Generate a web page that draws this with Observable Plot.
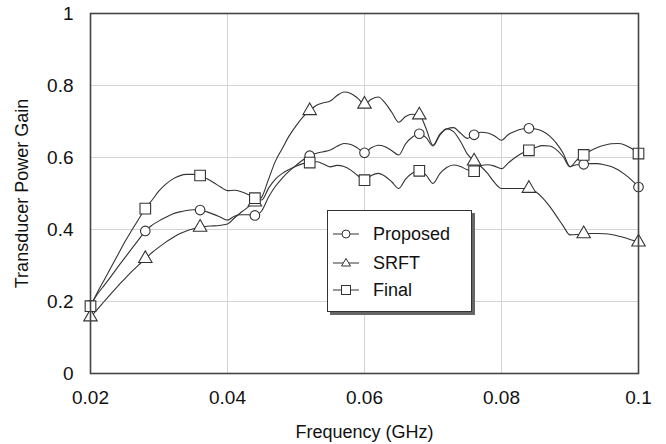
<!DOCTYPE html>
<html>
<head>
<meta charset="utf-8">
<script src="https://cdn.jsdelivr.net/npm/d3@7"></script>
<script src="https://cdn.jsdelivr.net/npm/@observablehq/plot@0.6"></script>
<style>
  html, body { margin: 0; padding: 0; background: #fff; }
  #wrap { position: relative; width: 666px; height: 444px; font-family: "Liberation Sans", Arial, sans-serif; }
  #legend { position: absolute; left: 327px; top: 210px; width: 145px; height: 102px; background: #fff;
            border: 1px solid #333; box-shadow: 3px 3px 0 #666; box-sizing: border-box; }
  .row { position: absolute; left: 5px; height: 24px; display: flex; align-items: center; font-size: 18px; color: #111; }
  .row svg { margin-right: 14px; }
</style>
</head>
<body>
<div id="wrap"></div>
<script>
// Frequency grid (GHz)
const freq = [0.020,0.021,0.022,0.023,0.024,0.025,0.026,0.027,0.028,0.029,
  0.030,0.031,0.032,0.033,0.034,0.035,0.036,0.037,0.038,0.039,
  0.040,0.041,0.042,0.043,0.044,0.045,0.046,0.047,0.048,0.049,
  0.050,0.051,0.052,0.053,0.054,0.055,0.056,0.057,0.058,0.059,
  0.060,0.061,0.062,0.063,0.064,0.065,0.066,0.067,0.068,0.069,
  0.070,0.071,0.072,0.073,0.074,0.075,0.076,0.077,0.078,0.079,
  0.080,0.081,0.082,0.083,0.084,0.085,0.086,0.087,0.088,0.089,
  0.090,0.091,0.092,0.093,0.094,0.095,0.096,0.097,0.098,0.099,0.100];

const proposed = [0.19,0.22,0.245,0.27,0.296,0.321,0.346,0.371,0.396,0.412,
  0.424,0.434,0.443,0.449,0.453,0.455,0.454,0.449,0.442,0.434,
  0.426,0.437,0.441,0.441,0.439,0.452,0.49,0.52,0.543,0.562,
  0.578,0.593,0.605,0.612,0.616,0.621,0.631,0.639,0.636,0.626,
  0.613,0.627,0.634,0.63,0.619,0.607,0.638,0.657,0.666,0.655,
  0.632,0.662,0.679,0.683,0.668,0.653,0.663,0.67,0.668,0.66,
  0.648,0.664,0.673,0.679,0.681,0.679,0.673,0.66,0.64,0.612,
  0.575,0.58,0.581,0.583,0.583,0.58,0.575,0.566,0.553,0.537,0.518];

const srft = [0.157,0.178,0.2,0.222,0.243,0.263,0.283,0.301,0.319,0.336,
  0.351,0.365,0.377,0.388,0.396,0.402,0.406,0.409,0.41,0.412,
  0.415,0.432,0.448,0.462,0.476,0.49,0.54,0.59,0.625,0.66,
  0.688,0.712,0.73,0.745,0.752,0.757,0.772,0.782,0.778,0.765,
  0.748,0.762,0.768,0.752,0.725,0.698,0.714,0.72,0.718,0.68,
  0.634,0.665,0.68,0.672,0.645,0.61,0.59,0.575,0.555,0.53,
  0.514,0.514,0.514,0.514,0.514,0.505,0.488,0.465,0.438,0.41,
  0.385,0.386,0.388,0.389,0.389,0.388,0.386,0.382,0.377,0.371,0.365];

const final = [0.187,0.225,0.26,0.295,0.33,0.365,0.397,0.428,0.458,0.482,
  0.507,0.526,0.54,0.549,0.553,0.553,0.55,0.541,0.53,0.518,
  0.508,0.509,0.505,0.497,0.487,0.482,0.515,0.54,0.556,0.567,
  0.576,0.583,0.586,0.588,0.582,0.574,0.578,0.575,0.565,0.55,
  0.537,0.55,0.556,0.548,0.532,0.514,0.54,0.557,0.563,0.551,
  0.528,0.555,0.572,0.579,0.575,0.566,0.562,0.578,0.58,0.576,
  0.569,0.585,0.6,0.612,0.62,0.628,0.633,0.632,0.622,0.602,
  0.574,0.593,0.607,0.619,0.628,0.634,0.638,0.639,0.635,0.625,0.611];

const seriesNames = ["Proposed", "SRFT", "Final"];
const markerFreq = [0.020,0.028,0.036,0.044,0.052,0.060,0.068,0.076,0.084,0.092,0.100];
const xTicks = [0.02,0.04,0.06,0.08,0.1];
const xTickLabels = ["0.02","0.04","0.06","0.08","0.1"];
const yTicks = [0,0.2,0.4,0.6,0.8,1];
const yTickLabels = ["0","0.2","0.4","0.6","0.8","1"];

const valuesBySeries = {Proposed: proposed, SRFT: srft, Final: final};
const rows = seriesNames.flatMap(s => freq.map((f, i) => ({series: s, f, v: valuesBySeries[s][i]})));
const isMarker = d => markerFreq.some(m => Math.abs(m - d.f) < 1e-9);
const markers = rows.filter(isMarker);

const ink = "#333";
const font = "Liberation Sans, Arial, sans-serif";

const chart = Plot.plot({
  width: 666, height: 444,
  marginLeft: 90, marginRight: 28, marginTop: 13, marginBottom: 71,
  style: {fontFamily: font, background: "#fff"},
  x: {domain: [0.02, 0.1]},
  y: {domain: [0, 1]},
  marks: [
    Plot.gridX(xTicks, {stroke: "#d4d4d4", strokeOpacity: 1, strokeWidth: 1}),
    Plot.gridY(yTicks, {stroke: "#d4d4d4", strokeOpacity: 1, strokeWidth: 1}),
    Plot.axisX(xTicks, {tickSize: 0, tickPadding: 17, fontSize: 19, fill: "#111",
      tickFormat: (d, i) => xTickLabels[i], label: null}),
    Plot.axisY(yTicks, {tickSize: 0, tickPadding: 17, fontSize: 19, fill: "#111",
      tickFormat: (d, i) => yTickLabels[i], label: null}),
    Plot.text(["Frequency (GHz)"], {frameAnchor: "bottom", dy: 59, lineAnchor: "middle", textAnchor: "middle", fontSize: 18, fill: "#111", fontFamily: font}),
    Plot.text(["Transducer Power Gain"], {frameAnchor: "left", dx: -68, rotate: -90, textAnchor: "middle", lineAnchor: "middle", fontSize: 18, fill: "#111", fontFamily: font}),
    Plot.line(rows, {x: "f", y: "v", z: "series", curve: "monotone-x", stroke: ink, strokeWidth: 1.1}),
    Plot.dot(markers.filter(d => d.series === "Proposed"), {x: "f", y: "v", symbol: "circle", r: 4.8, fill: "white", stroke: ink, strokeWidth: 1.1}),
    Plot.dot(markers.filter(d => d.series === "SRFT"), {x: "f", y: "v", symbol: "triangle", r: 5, fill: "white", stroke: ink, strokeWidth: 1.1}),
    Plot.dot(markers.filter(d => d.series === "Final"), {x: "f", y: "v", symbol: "square", r: 6, fill: "white", stroke: ink, strokeWidth: 1.1}),
    Plot.frame({stroke: "#444", strokeWidth: 1.6})
  ]
});

const wrap = document.getElementById("wrap");
wrap.appendChild(chart);

// Legend
const legend = document.createElement("div");
legend.id = "legend";
const symbolSvg = {
  Proposed: '<circle cx="13" cy="8" r="4" fill="white" stroke="#333"/>',
  SRFT: '<path d="M13,3.5 L17.5,11 L8.5,11 Z" fill="white" stroke="#333"/>',
  Final: '<rect x="8.5" y="3.5" width="9" height="9" fill="white" stroke="#333"/>'
};
seriesNames.forEach((s, i) => {
  const row = document.createElement("div");
  row.className = "row";
  row.style.top = [11, 40, 67][i] + "px";
  row.innerHTML = '<svg width="26" height="16"><line x1="0" x2="26" y1="8" y2="8" stroke="#333"/>' + symbolSvg[s] + '</svg><span>' + s + '</span>';
  legend.appendChild(row);
});
wrap.appendChild(legend);
</script>
</body>
</html>
